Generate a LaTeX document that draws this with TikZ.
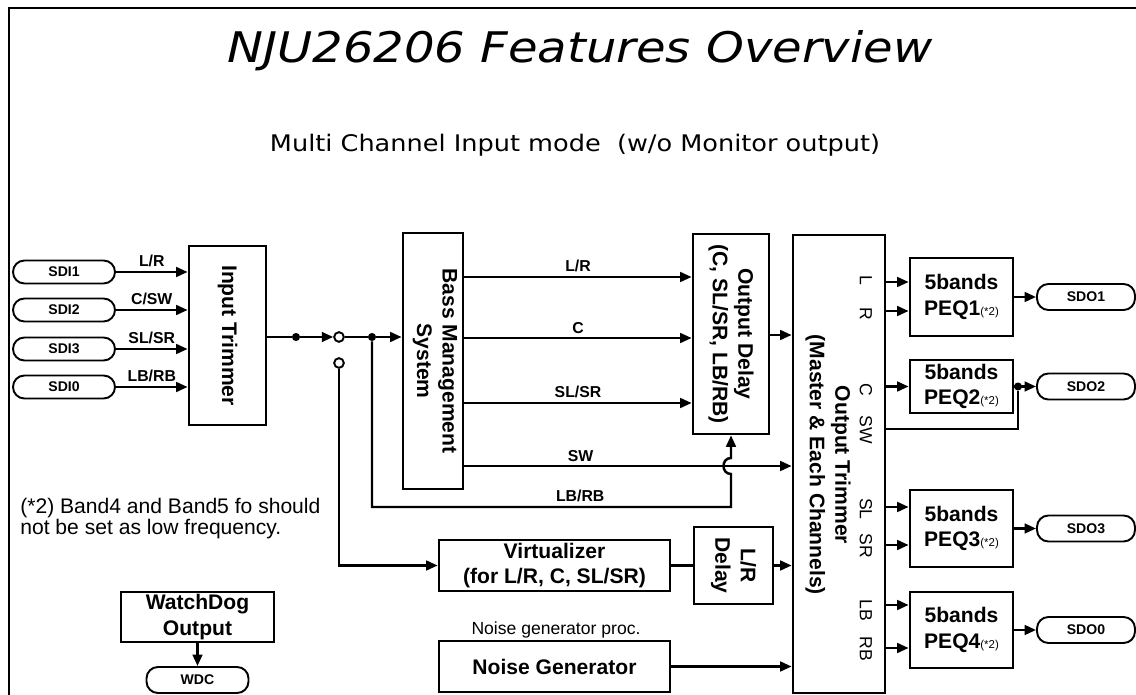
\documentclass[tikz,border=0pt]{standalone}
\usepackage{fontspec}
\setmainfont{Liberation Sans}
\newfontfamily\dejavutitle{DejaVu Sans}[FakeStretch=1.14]
\newfontfamily\dejavusub{DejaVu Sans}[FakeStretch=1.12]
\usetikzlibrary{arrows.meta}
\newcommand\smnote[1]{{\mdseries\fontsize{6.5}{7}\selectfont #1}}
\begin{document}
\begin{tikzpicture}[x=0.02cm,y=-0.02cm,
  ln/.style={line width=1.4pt},
  arr/.style={line width=1.4pt,-{Triangle[length=6.5pt,width=5.5pt]}},
  blk/.style={draw,line width=1.6pt,inner sep=0pt},
  wh/.style 2 args={minimum width=#1*0.569pt,minimum height=#2*0.569pt},
  btxt/.style={font=\bfseries\fontsize{12}{14.5}\selectfont,align=center,inner sep=0pt},
  term/.style={draw,line width=1.1pt,rounded corners=6.5pt,inner sep=0pt,font=\bfseries\fontsize{8}{9}\selectfont},
  lbl/.style={font=\bfseries\fontsize{9}{10}\selectfont,inner sep=2pt},
  chl/.style={font=\fontsize{10}{11}\selectfont,inner sep=0pt,rotate=-90},
  dot/.style={circle,fill,inner sep=0pt,minimum size=4.6pt},
  odot/.style={circle,draw,fill=white,line width=1.1pt,inner sep=0pt,minimum size=5.5pt},
]
\fill[white] (0,0) rectangle (1136,695);
\useasboundingbox (0,0) rectangle (1136,695);
% frame
\draw[line width=1.6pt] (9,695) -- (9,8) -- (1136,8);
% titles
\node[anchor=base,inner sep=0pt,font=\dejavutitle\itshape\fontsize{24}{28}\selectfont] (title) at (580,63) {NJU26206 Features Overview};
\node[anchor=base,inner sep=0pt,font=\dejavusub\fontsize{13}{15}\selectfont] (sub) at (575,152) {Multi Channel Input mode\ \ (w/o Monitor output)};
% inputs
\node[term,wh={102}{23}] (sdi1) at (64,272) {SDI1};
\node[term,wh={102}{23}] (sdi2) at (64,310) {SDI2};
\node[term,wh={102}{23}] (sdi3) at (64,349) {SDI3};
\node[term,wh={102}{23}] (sdi0) at (64,387) {SDI0};
\node[blk,wh={77}{179}] (it) at (227.5,335.5) {};
\node[btxt,rotate=-90] (itt) at (it.center) {Input Trimmer};
\draw[arr] (sdi1) -- node[lbl,above]{L/R} (it.west |- sdi1);
\draw[arr] (sdi2) -- node[lbl,above]{C/SW} (it.west |- sdi2);
\draw[arr] (sdi3) -- node[lbl,above]{SL/SR} (it.west |- sdi3);
\draw[arr] (sdi0) -- node[lbl,above]{LB/RB} (it.west |- sdi0);
% switch
\node[dot] (dot1) at (296,337) {};
\node[odot] (sw1) at (339,337) {};
\node[odot] (sw2) at (339,363) {};
\node[dot] (dot2) at (372,337) {};
% bass management
\node[blk,wh={60}{256}] (bms) at (433,361) {};
\node[btxt,rotate=-90] (bmst) at (435,361) {Bass Management\\System};
% output delay
\node[blk,wh={76}{200}] (od) at (731,334) {};
\node[btxt,rotate=-90] (odt) at (731,334) {Output Delay\\(C, SL/SR, LB/RB)};
% output trimmer
\node[blk,wh={92}{458}] (ot) at (839,464) {};
\node[btxt,rotate=-90] (ott) at (828,465) {Output Trimmer\\(Master \& Each Channels)};
\node[chl] (chL) at (866,280) {L};
\node[chl] (chR) at (866,314) {R};
\node[chl] (chC) at (866,390) {C};
\node[chl] (chSW) at (866,430) {SW};
\node[chl] (chSL) at (866,509) {SL};
\node[chl] (chSR) at (866,546) {SR};
\node[chl] (chLB) at (866,610) {LB};
\node[chl] (chRB) at (866,649) {RB};
% virtualizer, delay, noise
\node[blk,btxt,wh={231}{51}] (virt) at (554.5,565.5) {Virtualizer\\(for L/R, C, SL/SR)};
\node[blk,wh={79}{77}] (lrd) at (733.5,565.5) {};
\node[btxt,rotate=-90] (lrdt) at (lrd.center) {L/R\\Delay};
\node[blk,btxt,wh={231}{51}] (ng) at (554.5,666.5) {Noise Generator};
\node[anchor=base,inner sep=0pt,font=\fontsize{10}{11}\selectfont] (ngl) at (556,634) {Noise generator proc.};
% watchdog
\node[blk,btxt,wh={153}{50}] (wd) at (197.5,617) {WatchDog\\Output};
\node[term,wh={102}{26}] (wdc) at (197.5,680) {WDC};
% PEQs
\node[blk,btxt,wh={103}{78}] (peq1) at (961.5,297) {5bands\\PEQ1\smnote{(*2)}};
\node[blk,btxt,wh={103}{53}] (peq2) at (961.5,386.5) {5bands\\PEQ2\smnote{(*2)}};
\node[blk,btxt,wh={103}{77}] (peq3) at (961.5,528.5) {5bands\\PEQ3\smnote{(*2)}};
\node[blk,btxt,wh={103}{76}] (peq4) at (961.5,630) {5bands\\PEQ4\smnote{(*2)}};
\node[term,wh={98}{26}] (sdo1) at (1086,297) {SDO1};
\node[term,wh={98}{26}] (sdo2) at (1086,386.5) {SDO2};
\node[term,wh={98}{26}] (sdo3) at (1086,528.5) {SDO3};
\node[term,wh={98}{26}] (sdo0) at (1086,630) {SDO0};
\node[dot] (dot3) at (1018,386.5) {};
% note
\node[anchor=north west,align=left,inner sep=0pt,font=\fontsize{12}{12}\selectfont] (note) at (20,498) {(*2) Band4 and Band5 fo should\\not be set as low frequency.};
% connectors
\draw[ln] (it.east |- dot1) -- (dot1);
\draw[arr] (dot1) -- (sw1);
\draw[ln] (sw1) -- (dot2);
\draw[arr] (dot2) -- (bms.west |- dot2);
\draw[arr] (sw2) -- (sw2 |- virt) -- (virt);
\draw[arr] (bms.east |- 0,277) -- node[lbl,above]{L/R} (od.west |- 0,277);
\draw[arr] (bms.east |- 0,338) -- node[lbl,above]{C} (od.west |- 0,338);
\draw[arr] (bms.east |- 0,403) -- node[lbl,above]{SL/SR} (od.west |- 0,403);
\draw[arr] (bms.east |- 0,466) -- node[lbl,above,pos=0.355]{SW} (ot.west |- 0,466);
\draw[arr] (dot2) -- (372,507) -- node[lbl,above,pos=0.58]{LB/RB} (731,507) -- (731,474) .. controls (721,474) and (721,458) .. (731,458) -- (od.south);
\draw[arr] (od.east |- 0,335) -- (ot.west |- 0,335);
\draw[ln] (virt) -- (lrd);
\draw[arr] (lrd) -- (ot.west |- lrd);
\draw[arr] (ng) -- (ot.west |- ng);
\draw[arr] (wd) -- (wdc);
\draw[arr] (ot.east |- 0,282) -- (peq1.west |- 0,282);
\draw[arr] (ot.east |- 0,311) -- (peq1.west |- 0,311);
\draw[arr] (ot.east |- 0,386.5) -- (peq2.west |- 0,386.5);
\draw[arr] (ot.east |- 0,507) -- (peq3.west |- 0,507);
\draw[arr] (ot.east |- 0,545) -- (peq3.west |- 0,545);
\draw[arr] (ot.east |- 0,605) -- (peq4.west |- 0,605);
\draw[arr] (ot.east |- 0,648) -- (peq4.west |- 0,648);
\draw[ln] (ot.east |- 0,429) -- (dot3 |- 0,429) -- (dot3);
\draw[arr] (peq1) -- (sdo1);
\draw[arr] (peq2) -- (sdo2);
\draw[arr] (peq3) -- (sdo3);
\draw[arr] (peq4) -- (sdo0);
\end{tikzpicture}
\end{document}
